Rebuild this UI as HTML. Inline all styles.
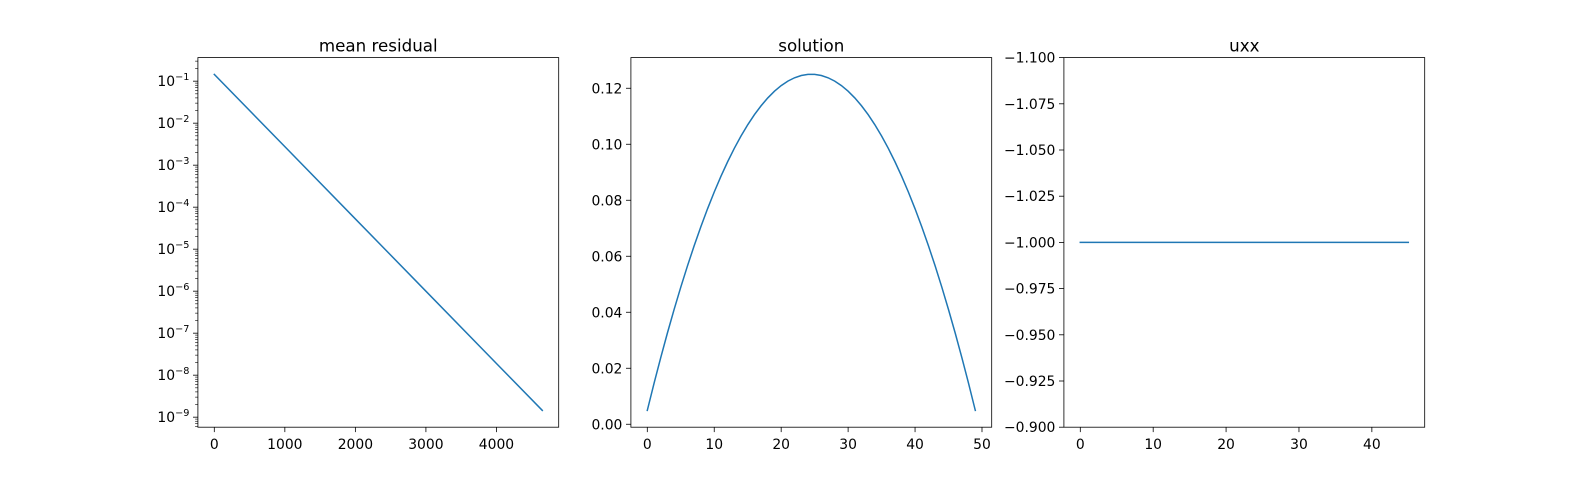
<!DOCTYPE html>
<html><head><meta charset="utf-8">
<style>
html,body{margin:0;padding:0;background:#fff;}
svg{display:block;font-family:"DejaVu Sans","Liberation Sans",sans-serif;}
</style></head>
<body>
<svg id="fig" width="1583" height="480" viewBox="0 0 1583 480" xmlns="http://www.w3.org/2000/svg">
<rect width="1583" height="480" fill="#fff"/>
</svg>
<script>
// ---- data ----
const residualIterations = [0, 1000, 2000, 3000, 4000, 4650];
const residualValues = [0.145, 2.76e-3, 5.25e-5, 1.0e-6, 1.9e-8, 1.45e-9];
const residualXTicks = [0, 1000, 2000, 3000, 4000];
const residualYTickExps = [-1, -2, -3, -4, -5, -6, -7, -8, -9];

const solutionValues = [0.00495,0.01455,0.02375,0.03255,0.04095,0.04895,0.05655,0.06375,0.07055,0.07695,
0.08295,0.08855,0.09375,0.09855,0.10295,0.10695,0.11055,0.11375,0.11655,0.11895,
0.12095,0.12255,0.12375,0.12455,0.12495,0.12495,0.12455,0.12375,0.12255,0.12095,
0.11895,0.11655,0.11375,0.11055,0.10695,0.10295,0.09855,0.09375,0.08855,0.08295,
0.07695,0.07055,0.06375,0.05655,0.04895,0.04095,0.03255,0.02375,0.01455,0.00495];
const solutionXTicks = [0, 10, 20, 30, 40, 50];
const solutionYTicks = [0.00, 0.02, 0.04, 0.06, 0.08, 0.10, 0.12];

const uxxValues = Array(46).fill(-1.0);
const uxxXTicks = [0, 10, 20, 30, 40];
const uxxYTicks = [-1.1, -1.075, -1.05, -1.025, -1.0, -0.975, -0.95, -0.925, -0.9];
const uxxYLabels = ["\u22121.100","\u22121.075","\u22121.050","\u22121.025","\u22121.000","\u22120.975","\u22120.950","\u22120.925","\u22120.900"];

// ---- helpers ----
const NS = "http://www.w3.org/2000/svg";
const fig = document.getElementById('fig');
function mk(tag, attrs, parent){const e=document.createElementNS(NS,tag);for(const k in attrs)e.setAttribute(k,attrs[k]);(parent||fig).appendChild(e);return e;}
const TOP=57.6, BOT=427.2, W=360.8;
const LEFTS=[197.9, 630.9, 1063.9];
const BLUE="#1f77b4";

function linScale(d0,d1,r0,r1){return v=>r0+(v-d0)/(d1-d0)*(r1-r0);}

function axes(i, title){
  const g=mk('g',{});
  
  
  const t=mk('text',{x:LEFTS[i]+W/2,y:TOP-6,'text-anchor':'middle','font-size':'16.7',fill:'#000'},g);
  
  
  t.textContent=title;
  return g;
}
function frame(g,i){
  const r=mk('rect',{x:LEFTS[i],y:TOP,width:W,height:BOT-TOP,fill:'none',stroke:'#000','stroke-width':'0.8'},g);
  
  
}
function xTicks(g,ticks,sx,labels){
  ticks.forEach((v,k)=>{
    const x=sx(v);
    mk('line',{x1:x,x2:x,y1:BOT,y2:BOT+4.9,stroke:'#000','stroke-width':'0.8'},g);
    const t=mk('text',{x:x,y:BOT+22,'text-anchor':'middle','font-size':'13.9',fill:'#000'},g);
    
    
    t.textContent=labels?labels[k]:String(v);
  });
}
function yTicks(g,i,ticks,sy,labels){
  const L=LEFTS[i];
  ticks.forEach((v,k)=>{
    const y=sy(v);
    mk('line',{x1:L-4.9,x2:L,y1:y,y2:y,stroke:'#000','stroke-width':'0.8'},g);
    const t=mk('text',{x:L-8.5,y:y+5,'text-anchor':'end','font-size':'13.9',fill:'#000'},g);
    
    
    t.textContent=labels[k];
  });
}
function line(g,xs,ys,sx,sy,name){
  const d=xs.map((x,k)=>(k?'L':'M')+sx(x).toFixed(2)+','+sy(ys[k]).toFixed(2)).join(' ');
  const p=mk('path',{d:d,fill:'none',stroke:BLUE,'stroke-width':'1.5','stroke-linecap':'square'},g);
  
  
}

// ---- subplot 1: mean residual (log) ----
{
  const g=axes(0,'mean residual');
  const xmax=residualIterations[residualIterations.length-1], xmin=residualIterations[0];
  const m=(xmax-xmin)*0.05;
  const sx=linScale(xmin-m,xmax+m,LEFTS[0],LEFTS[0]+W);
  const lg=residualValues.map(Math.log10);
  const lmax=Math.max(...lg), lmin=Math.min(...lg), lm=(lmax-lmin)*0.05;
  const sy=v=>{const l=Math.log10(v);return BOT-(l-(lmin-lm))/((lmax+lm)-(lmin-lm))*(BOT-TOP);};
  // minor ticks
  for(let e=-10;e<=0;e++){for(let k=2;k<=9;k++){const v=k*Math.pow(10,e);const y=sy(v);if(y>=TOP&&y<=BOT)mk('line',{x1:LEFTS[0]-2.8,x2:LEFTS[0],y1:y,y2:y,stroke:'#000','stroke-width':'0.6'},g);}}
  residualYTickExps.forEach(e=>{
    const y=sy(Math.pow(10,e));
    mk('line',{x1:LEFTS[0]-4.9,x2:LEFTS[0],y1:y,y2:y,stroke:'#000','stroke-width':'0.8'},g);
    const t=mk('text',{x:LEFTS[0]-8.5,y:y+5,'text-anchor':'end','font-size':'13.9',fill:'#000'},g);
    
    
    t.textContent='10';
    const s=mk('tspan',{dy:'-6','font-size':'9.7'},t);
    s.textContent='\u2212'+Math.abs(e);
  });
  xTicks(g,residualXTicks,sx);
  line(g,residualIterations,residualValues,sx,sy,'residual-line');
  frame(g,0);
}
// ---- subplot 2: solution ----
{
  const g=axes(1,'solution');
  const xs=solutionValues.map((_,k)=>k);
  const xm=(xs.length-1)*0.05;
  const sx=linScale(-xm,xs.length-1+xm,LEFTS[1],LEFTS[1]+W);
  const mn=Math.min(...solutionValues), mx=Math.max(...solutionValues), ym=(mx-mn)*0.05;
  const sy=linScale(mn-ym,mx+ym,BOT,TOP);
  yTicks(g,1,solutionYTicks,sy,solutionYTicks.map(v=>v.toFixed(2)));
  xTicks(g,solutionXTicks,sx);
  line(g,xs,solutionValues,sx,sy,'solution-curve');
  frame(g,1);
}
// ---- subplot 3: uxx ----
{
  const g=axes(2,'uxx');
  const xs=uxxValues.map((_,k)=>k);
  const xm=(xs.length-1)*0.05;
  const sx=linScale(-xm,xs.length-1+xm,LEFTS[2],LEFTS[2]+W);
  const sy=linScale(-1.1,-0.9,TOP,BOT);
  yTicks(g,2,uxxYTicks,sy,uxxYLabels);
  xTicks(g,uxxXTicks,sx);
  line(g,xs,uxxValues,sx,sy,'uxx-line');
  frame(g,2);
}
</script>
</body></html>
